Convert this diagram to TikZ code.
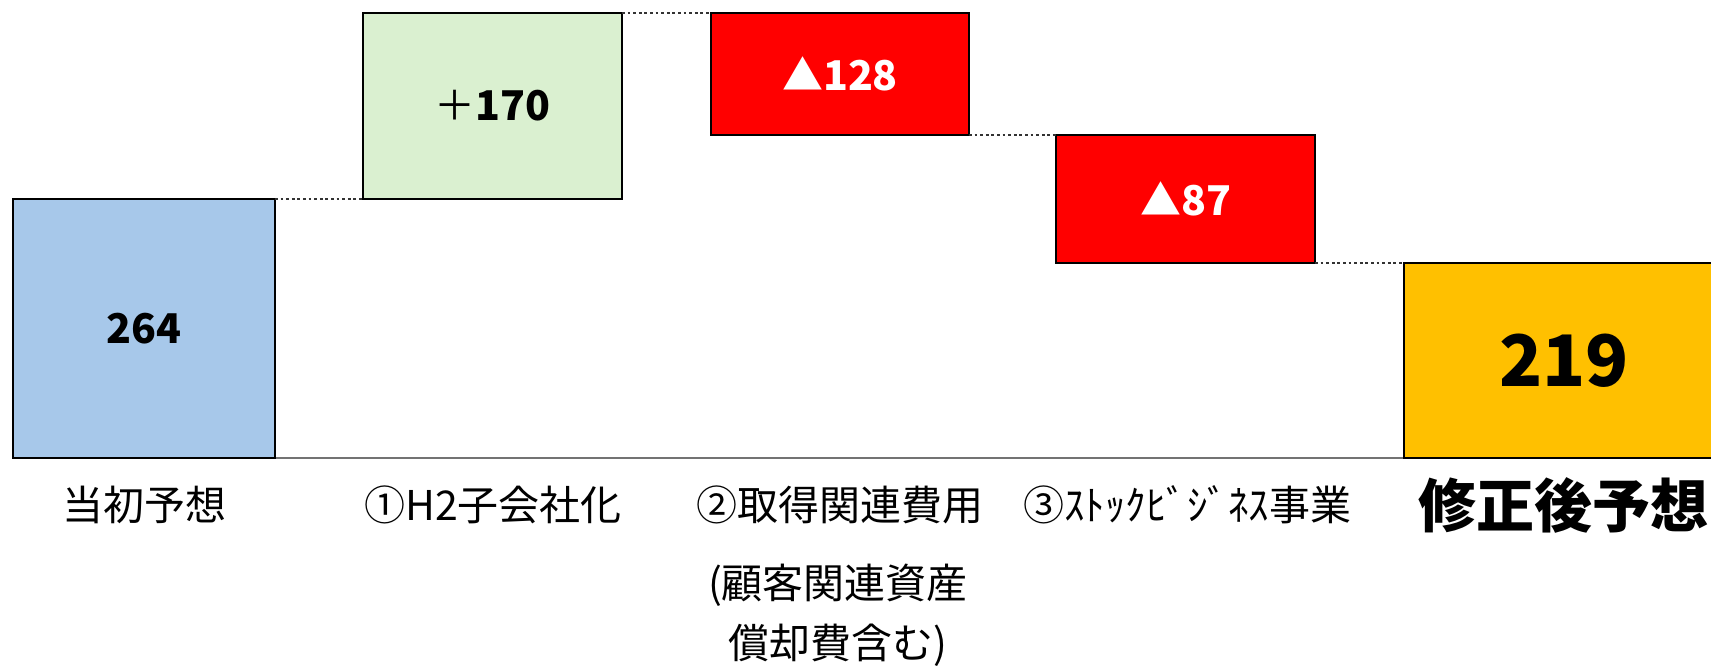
\documentclass[tikz,border=0pt]{standalone}
\usepackage{fontspec}
\setmainfont{Noto Sans CJK JP}

\definecolor{initblue}{RGB}{167,200,234}
\definecolor{plusgreen}{RGB}{218,240,208}
\definecolor{minusred}{RGB}{255,0,0}
\definecolor{finalgold}{RGB}{255,192,0}

\tikzset{
    bar/.style={draw, line width=1.45pt, inner sep=0pt, outer sep=0pt,
        font=\bfseries\fontsize{20.5}{24}\selectfont},
    gap/.style={line width=1pt, black!80, dash pattern=on 1.4pt off 1.4pt},
    caption/.style={font=\fontsize{20.5}{24}\selectfont},
}

\begin{document}
\begin{tikzpicture}[x=0.5pt, y=-0.5pt]
            %\draw[lightgray] (0, 0) grid[step=100] (1711, 667);
            \clip (0, 0) rectangle (1711, 667);
            \coordinate (axisL) at (13, 458);
            \coordinate (axisR) at (1711, 458);
            \draw[black!55, line width=0.9pt] (axisL) -- (axisR);
            \node[bar, fill=initblue, minimum width=131pt, minimum height=129.5pt] (initial) at (144, 328.5) {264};
            \node[bar, fill=plusgreen, minimum width=129.5pt, minimum height=93pt] (h2) at (492.5, 106) {{\mdseries ＋}170};
            \node[bar, fill=minusred, text=white, minimum width=129pt, minimum height=61pt] (acq) at (840, 74) {▲128};
            \node[bar, fill=minusred, text=white, minimum width=129.5pt, minimum height=64pt] (stock) at (1185.5, 199) {▲87};
            \node[bar, fill=finalgold, minimum width=160pt, minimum height=97.5pt, font=\bfseries\fontsize{35.5}{40}\selectfont] (revised) at (1564, 360.5) {219};
            \draw[gap] (initial.north east) -- (h2.south west);
            \draw[gap] (h2.north east) -- (acq.north west);
            \draw[gap] (acq.south east) -- (stock.north west);
            \draw[gap] (stock.south east) -- (revised.north west);
            \node[caption] (lblinit) at (144, 505) {当初予想};
            \node[caption] (lblh2) at (493, 505) {①H2子会社化};
            \node[caption] (lblacq) at (840, 505) {②取得関連費用};
            \node[caption, align=center, font=\fontsize{20.5}{30}\selectfont] (lblacqsub) at (838, 615) {(顧客関連資産\\償却費含む)};
            \node[caption] (lblstock) at (1187, 505) {③ｽﾄｯｸﾋﾞｼﾞﾈｽ事業};
            \node[caption, font=\bfseries\fontsize{29}{34}\selectfont] (lblrev) at (1563, 505) {修正後予想};
        \end{tikzpicture}
\end{document}
